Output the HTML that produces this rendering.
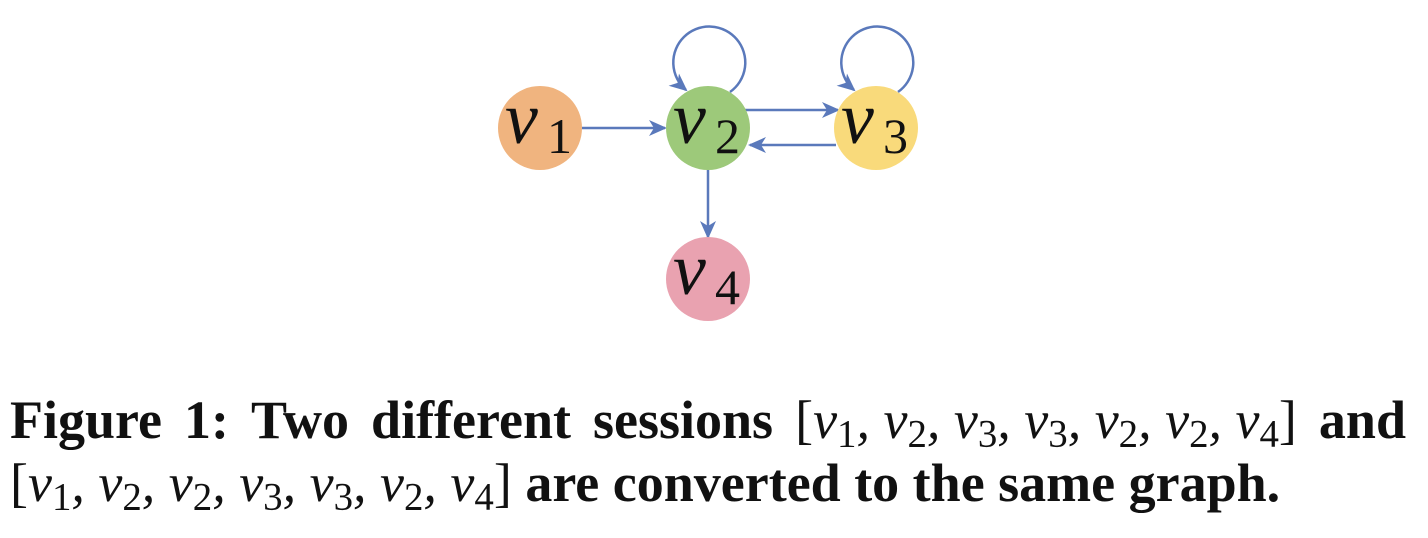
<!DOCTYPE html>
<html><head><style>
html,body{margin:0;padding:0;background:#fff;}
body{width:1428px;height:538px;position:relative;overflow:hidden;}
svg{position:absolute;left:0;top:0;}
.cap{position:absolute;left:10px;width:1396px;font-family:"Liberation Serif",serif;font-weight:bold;font-size:54px;line-height:62px;color:#111;white-space:nowrap;}
.l1{top:389px;display:flex;justify-content:space-between;}
.l2{top:452px;}
.m{font-weight:normal;font-style:italic;}
.m sub{font-style:normal;font-size:0.72em;vertical-align:-0.22em;line-height:0;}
.br{font-weight:normal;font-style:normal;}
</style></head><body>
<svg width="1428" height="538" viewBox="0 0 1428 538">
<defs>
<marker id="b" markerWidth="18" markerHeight="18" refX="16" refY="9" orient="auto" markerUnits="userSpaceOnUse" viewBox="0 0 18 18">
<path d="M0,1 L18,9 L0,17 L5,9 Z" fill="#5a79bb"/>
</marker>
</defs>
<g stroke="#5a79bb" stroke-width="2.5" fill="none">
<line x1="582" y1="128" x2="665" y2="128" marker-end="url(#b)"/>
<line x1="745" y1="110" x2="838" y2="110" marker-end="url(#b)"/>
<line x1="836" y1="145" x2="750" y2="145" marker-end="url(#b)"/>
<line x1="708" y1="170" x2="708" y2="237" marker-end="url(#b)"/>
<path d="M730,92 A36,36 0 1 0 686,90" marker-end="url(#b)"/>
<path d="M898,92 A36,36 0 1 0 854,90" marker-end="url(#b)"/>
</g>
<circle cx="540" cy="128" r="42" fill="#f0b47f"/>
<circle cx="708" cy="128" r="42" fill="#9dc97a"/>
<circle cx="876" cy="128" r="42" fill="#f9da7b"/>
<circle cx="708" cy="279" r="42" fill="#e9a2b0"/>
<g font-family="Liberation Serif,serif" fill="#111">
<text x="505" y="143" font-size="74" font-style="italic">v</text><text x="547" y="153" font-size="50">1</text>
<text x="673" y="143" font-size="74" font-style="italic">v</text><text x="715" y="153" font-size="50">2</text>
<text x="841" y="143" font-size="74" font-style="italic">v</text><text x="883" y="153" font-size="50">3</text>
<text x="673" y="294" font-size="74" font-style="italic">v</text><text x="715" y="304" font-size="50">4</text>
</g>
</svg>
<div class="cap l1"><span>Figure</span><span>1:</span><span>Two</span><span>different</span><span>sessions</span><span><span class="br">[</span><span class="m">v<sub>1</sub>, v<sub>2</sub>, v<sub>3</sub>, v<sub>3</sub>, v<sub>2</sub>, v<sub>2</sub>, v<sub>4</sub></span><span class="br">]</span></span><span>and</span></div>
<div class="cap l2"><span class="br">[</span><span class="m">v<sub>1</sub>, v<sub>2</sub>, v<sub>2</sub>, v<sub>3</sub>, v<sub>3</sub>, v<sub>2</sub>, v<sub>4</sub></span><span class="br">]</span> are converted to the same graph.</div>
</body></html>
